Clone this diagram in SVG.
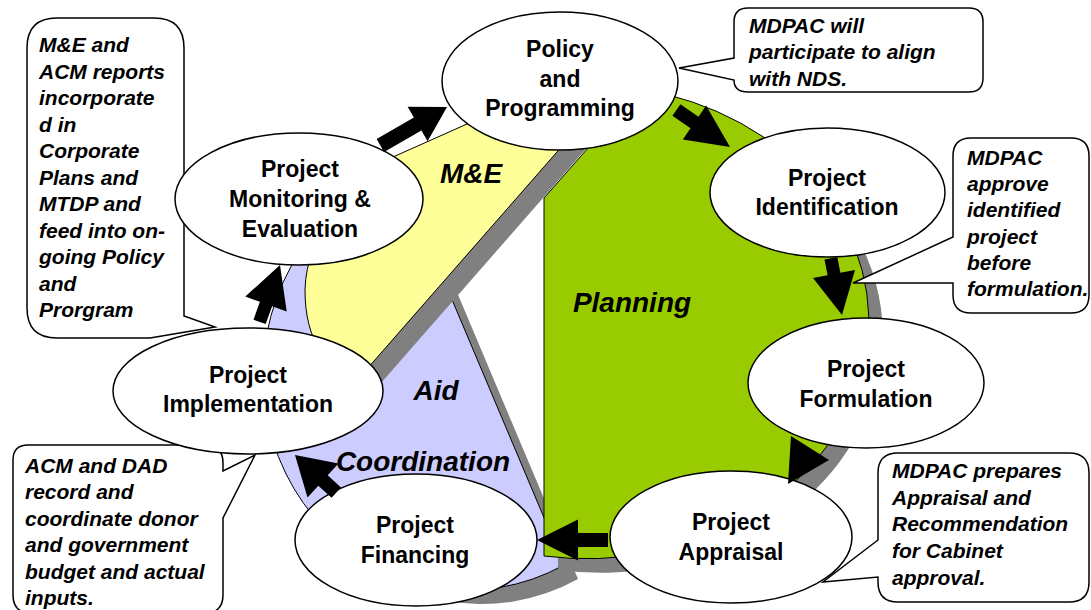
<svg xmlns="http://www.w3.org/2000/svg" width="1091" height="610" viewBox="0 0 1091 610">
<style>
.bg{fill:#fff}
.shadow{fill:#808080}
.sector{stroke:#000;stroke-width:1}
.node ellipse{fill:#fff;stroke:#000;stroke-width:1.5}
.nt{font-family:"Liberation Sans",Arial,sans-serif;font-weight:bold;font-size:23px;text-anchor:middle;fill:#000}
.st{font-family:"Liberation Sans",Arial,sans-serif;font-weight:bold;font-style:italic;font-size:28px;text-anchor:middle;fill:#000}
.ct{font-family:"Liberation Sans",Arial,sans-serif;font-weight:bold;font-style:italic;font-size:21px;fill:#000}
.callout path{fill:#fff;stroke:#000;stroke-width:1.5}
.arrow{fill:#000;stroke:none}
</style>
<defs>
<path id="blueShape" d="M439.5,270 L564,565 A205,215 0 0 1 300.1,251.7 Z"/>
<path id="yellowShape" d="M353,385 L592,112 C540,108 500,112 467,124 L393,157 C350,180 306,235 305,290 C305,315 310,335 320,350 Z"/>
<path id="greenShape" d="M544,198 L640,89 A282,237 0 0 1 544,556 Z"/>
</defs>
<rect class="bg" x="0" y="0" width="1091" height="610"/>
<g id="sectors">
<use href="#blueShape" class="shadow" transform="translate(14,14)"/>
<use href="#blueShape" class="sector" fill="#CCCCFF"/>
<use href="#yellowShape" class="shadow" transform="translate(14,14)"/>
<use href="#yellowShape" class="sector" fill="#FFFF99"/>
<use href="#greenShape" class="shadow" transform="translate(14,14)"/>
<use href="#greenShape" class="sector" fill="#99CC00"/>
<text class="st" x="471" y="183">M&amp;E</text>
<text class="st" x="632" y="312">Planning</text>
<text class="st" x="436" y="400">Aid</text>
<text class="st" x="423" y="471">Coordination</text>
</g>
<g id="callout-me" class="callout">
<path d="M57,18 H154 Q184,18 184,48 V316 L215,327 L150,338 H57 Q27,338 27,308 V48 Q27,18 57,18 Z"/>
<text class="ct" x="39" y="52">M&amp;E and</text>
<text class="ct" x="39" y="78.5">ACM reports</text>
<text class="ct" x="39" y="105">incorporate</text>
<text class="ct" x="39" y="131.5">d in</text>
<text class="ct" x="39" y="158">Corporate</text>
<text class="ct" x="39" y="184.5">Plans and</text>
<text class="ct" x="39" y="211">MTDP and</text>
<text class="ct" x="39" y="237.5">feed into on-</text>
<text class="ct" x="39" y="264">going Policy</text>
<text class="ct" x="39" y="290.5">and</text>
<text class="ct" x="39" y="317">Prorgram</text>
</g>
<g id="callout-nds" class="callout">
<path d="M748,8 H969 Q983,8 983,22 V78 Q983,92 969,92 H748 Q734,92 734,80 L679,68 L734,58 V22 Q734,8 748,8 Z"/>
<text class="ct" x="749" y="32.5">MDPAC will</text>
<text class="ct" x="749" y="59">participate to align</text>
<text class="ct" x="749" y="85.5">with NDS.</text>
</g>
<g id="callout-approve" class="callout">
<path d="M971,138 H1071 Q1089,138 1089,156 V295 Q1089,313 1071,313 H971 Q953,313 953,295 V283 L853,283 L953,237 V156 Q953,138 971,138 Z"/>
<text class="ct" x="967" y="165">MDPAC</text>
<text class="ct" x="967" y="191.2">approve</text>
<text class="ct" x="967" y="217.4">identified</text>
<text class="ct" x="967" y="243.6">project</text>
<text class="ct" x="967" y="269.8">before</text>
<text class="ct" x="967" y="296">formulation.</text>
</g>
<g id="callout-appraisal" class="callout">
<path d="M898,453 H1069 Q1089,453 1089,473 V582 Q1089,602 1069,602 H898 Q878,602 878,582 V577 L823,582 L878,540 V473 Q878,453 898,453 Z"/>
<text class="ct" x="892" y="478">MDPAC prepares</text>
<text class="ct" x="892" y="504.7">Appraisal and</text>
<text class="ct" x="892" y="531.3">Recommendation</text>
<text class="ct" x="892" y="558">for Cabinet</text>
<text class="ct" x="892" y="584.7">approval.</text>
</g>
<g id="callout-acm" class="callout">
<path d="M28,445 H205 Q223,445 223,463 V471 L255,455 L223,518 V595 Q223,613 205,613 H31 Q13,613 13,595 V460 Q13,445 28,445 Z"/>
<text class="ct" x="25" y="473">ACM and DAD</text>
<text class="ct" x="25" y="499.4">record and</text>
<text class="ct" x="25" y="525.8">coordinate donor</text>
<text class="ct" x="25" y="552.2">and government</text>
<text class="ct" x="25" y="578.6">budget and actual</text>
<text class="ct" x="25" y="605">inputs.</text>
</g>
<g id="node-policy" class="node">
<ellipse cx="560" cy="81" rx="118" ry="69"/>
<text class="nt" x="560" y="57">Policy</text>
<text class="nt" x="560" y="87">and</text>
<text class="nt" x="560" y="116">Programming</text>
</g>
<g id="node-identification" class="node">
<ellipse cx="827.5" cy="192.5" rx="117.5" ry="64.5"/>
<text class="nt" x="827" y="186">Project</text>
<text class="nt" x="827" y="215">Identification</text>
</g>
<g id="node-formulation" class="node">
<ellipse cx="866" cy="383" rx="118" ry="65"/>
<text class="nt" x="866" y="377">Project</text>
<text class="nt" x="866" y="407">Formulation</text>
</g>
<g id="node-appraisal" class="node">
<ellipse cx="731" cy="537" rx="121" ry="66"/>
<text class="nt" x="731" y="530">Project</text>
<text class="nt" x="731" y="560">Appraisal</text>
</g>
<g id="node-financing" class="node">
<ellipse cx="416" cy="540" rx="121" ry="66"/>
<text class="nt" x="415" y="533">Project</text>
<text class="nt" x="415" y="563">Financing</text>
</g>
<g id="node-implementation" class="node">
<ellipse cx="248" cy="391" rx="135" ry="63"/>
<text class="nt" x="248" y="383">Project</text>
<text class="nt" x="248" y="412">Implementation</text>
</g>
<g id="node-monitoring" class="node">
<ellipse cx="299" cy="199" rx="124" ry="66"/>
<text class="nt" x="300" y="177">Project</text>
<text class="nt" x="300" y="207">Monitoring &amp;</text>
<text class="nt" x="300" y="237">Evaluation</text>
</g>
<g id="connectors">
<polygon class="arrow" points="384.1,152 421.4,130.5 427.6,141.3 447,107 407.6,106.7 413.9,117.5 376.6,139"/>
<polygon class="arrow" points="672.4,115.8 690.5,128.3 682.9,139.4 730,147 706.1,105.6 698.5,116.7 680.4,104.2"/>
<polygon class="arrow" points="824.5,259.5 827.6,275.2 813,278.1 842,315 855,269.9 840.4,272.8 837.3,257.1"/>
<polygon class="arrow" points="791,436 829,460 788,484"/>
<polygon class="arrow" points="608,547 578,547 578,560.5 537,540 578,519.5 578,533 608,533"/>
<polygon class="arrow" points="341,487.4 327.7,475.3 338.5,463.5 295,455 307.5,497.5 318.3,485.7 331.6,497.8"/>
<polygon class="arrow" points="265.7,324.1 272.1,306.2 286.7,311.4 280,265 245.3,296.6 259.9,301.8 253.5,319.7"/>
</g>
</svg>
